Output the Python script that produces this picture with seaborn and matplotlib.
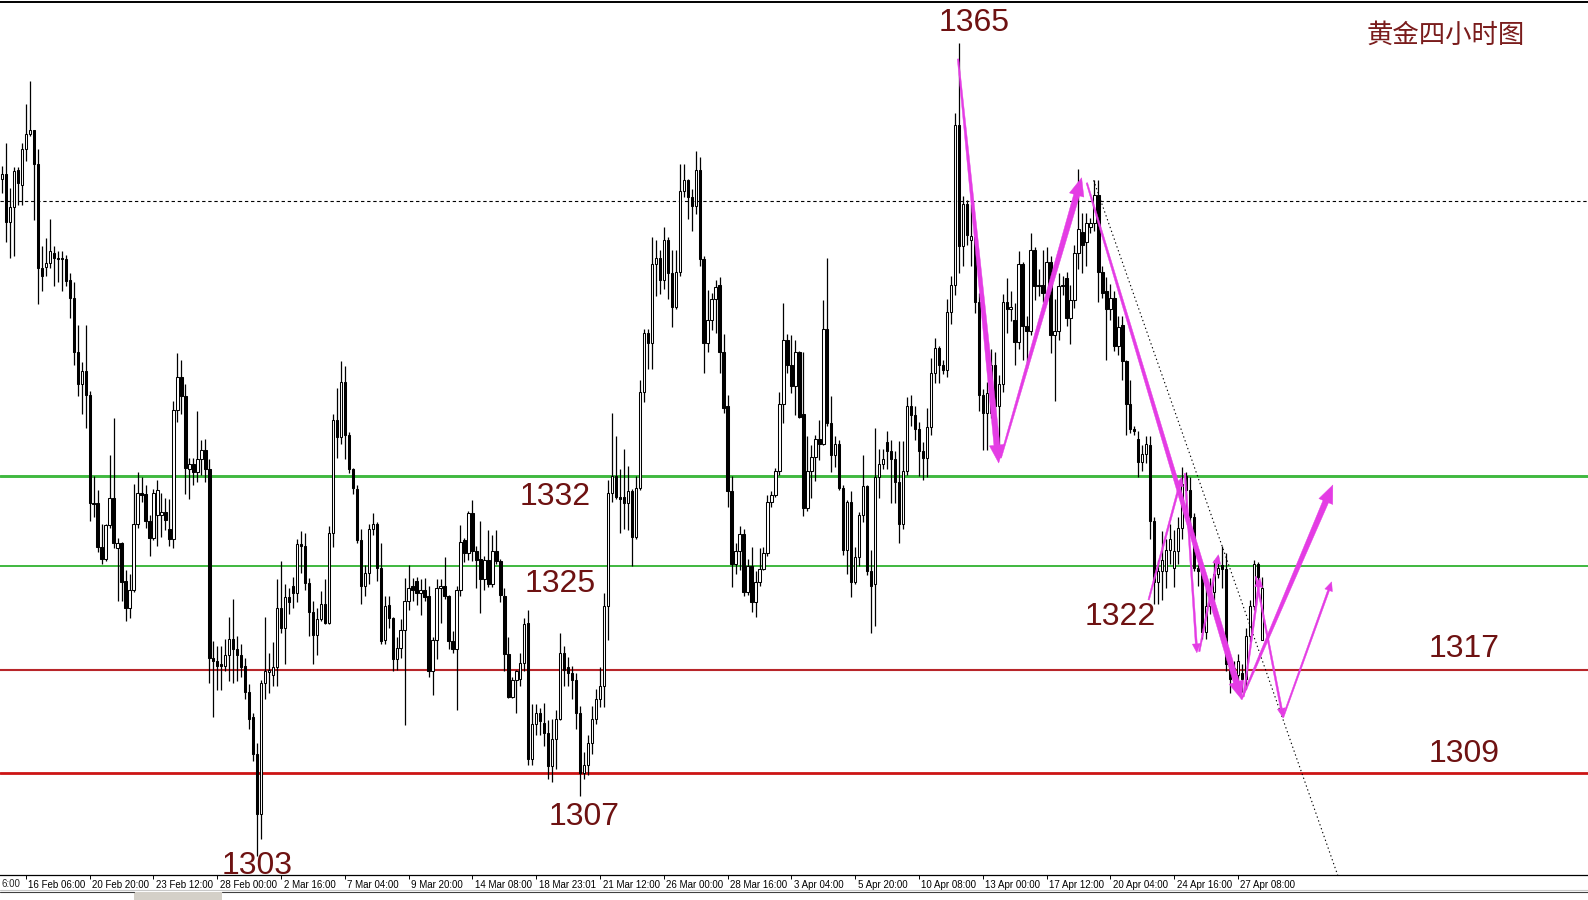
import numpy as np
import matplotlib
matplotlib.use("Agg")
import matplotlib.pyplot as plt
import matplotlib.transforms as mtransforms
from matplotlib.patches import Polygon, Rectangle
from matplotlib import font_manager
import seaborn as sns

# 4H gold candles (oldest -> newest)
opens = [
    1355.0, 1355.4, 1351.7, 1352.8, 1355.7, 1354.5, 1357.3, 1358.5, 1358.8, 1356.2,
    1348.1, 1348.2, 1348.5, 1349.3, 1348.9, 1348.9, 1348.8, 1347.2, 1345.8, 1341.6,
    1339.1, 1340.1, 1338.3, 1329.9, 1329.9, 1326.5, 1325.6, 1328.2, 1330.3, 1326.4,
    1326.8, 1323.9, 1321.8, 1323.2, 1328.3, 1330.7, 1330.6, 1328.5, 1327.2, 1329.0,
    1329.0, 1329.2, 1327.9, 1327.1, 1337.1, 1339.7, 1338.2, 1332.5, 1332.9, 1332.3,
    1333.3, 1334.0, 1332.5, 1317.9, 1317.7, 1317.4, 1317.3, 1318.1, 1319.4, 1318.6,
    1318.1, 1317.3, 1315.3, 1313.3, 1310.5, 1305.8, 1316.0, 1316.8, 1316.6, 1317.2,
    1321.8, 1320.2, 1322.6, 1323.5, 1322.9, 1326.7, 1326.6, 1323.7, 1321.5, 1319.7,
    1320.9, 1322.1, 1320.6, 1327.6, 1336.3, 1335.0, 1339.3, 1335.2, 1332.5, 1331.0,
    1327.0, 1323.5, 1324.5, 1327.9, 1328.3, 1324.9, 1319.3, 1322.0, 1321.0, 1317.8,
    1318.7, 1320.1, 1322.3, 1323.5, 1323.9, 1322.9, 1323.2, 1322.7, 1316.9, 1319.3,
    1323.3, 1323.5, 1322.7, 1319.2, 1318.6, 1323.2, 1327.0, 1326.0, 1329.1, 1326.2,
    1325.6, 1324.0, 1325.5, 1323.6, 1326.2, 1325.4, 1322.7, 1318.2, 1314.9, 1316.2,
    1316.3, 1317.5, 1320.6, 1310.1, 1312.8, 1313.6, 1312.9, 1312.1, 1309.5, 1311.6,
    1313.2, 1318.3, 1317.2, 1316.7, 1316.2, 1313.6, 1309.0, 1309.6, 1311.3, 1313.2,
    1314.7, 1315.7, 1321.9, 1330.7, 1332.0, 1330.4, 1330.4, 1329.9, 1330.8, 1327.3,
    1331.1, 1338.5, 1343.1, 1342.3, 1348.4, 1348.9, 1347.2, 1350.3, 1347.7, 1345.1,
    1347.8, 1354.1, 1354.9, 1353.6, 1352.9, 1355.7, 1348.8, 1342.3, 1344.1, 1345.7,
    1346.8, 1341.6, 1337.4, 1330.8, 1325.2, 1326.2, 1327.5, 1323.0, 1325.0, 1322.2,
    1323.8, 1324.8, 1326.0, 1330.0, 1330.5, 1332.4, 1337.6, 1342.5, 1340.6, 1339.0,
    1341.6, 1336.8, 1329.5, 1332.4, 1333.5, 1334.9, 1334.5, 1343.4, 1336.1, 1333.6,
    1334.5, 1331.1, 1326.3, 1330.0, 1323.8, 1325.7, 1329.0, 1331.2, 1324.6, 1323.6,
    1331.9, 1332.9, 1334.6, 1333.9, 1333.3, 1331.5, 1328.3, 1332.4, 1337.4, 1336.7,
    1335.6, 1333.9, 1333.4, 1335.8, 1340.0, 1341.9, 1340.6, 1340.2, 1344.7, 1346.8,
    1359.2, 1349.8, 1353.1, 1350.3, 1350.5, 1345.5, 1338.3, 1336.9, 1336.9, 1340.6,
    1337.4, 1339.1, 1345.5, 1344.9, 1344.1, 1342.4, 1348.4, 1343.6, 1343.2, 1349.5,
    1346.7, 1346.8, 1346.2, 1348.6, 1342.9, 1343.2, 1346.7, 1347.3, 1344.2, 1345.6,
    1349.3, 1350.9, 1350.1, 1351.3, 1351.6, 1353.8, 1347.8, 1346.3, 1344.9, 1345.8,
    1342.1, 1343.7, 1340.9, 1337.6, 1335.6, 1334.9, 1333.1, 1333.7, 1334.4, 1328.5,
    1323.8, 1324.6, 1324.6, 1326.3, 1324.9, 1326.2, 1328.0, 1332.0, 1330.9, 1328.8,
    1324.9, 1324.6, 1319.9, 1321.9, 1323.0, 1324.4, 1325.1, 1324.8, 1317.4, 1316.3,
    1316.6, 1316.7, 1316.3, 1319.6, 1321.9, 1325.2, 1319.3,
]
highs = [
    1356.0, 1357.8, 1354.3, 1355.9, 1355.9, 1357.8, 1360.8, 1362.6, 1358.8, 1357.3,
    1349.8, 1350.4, 1351.9, 1349.8, 1349.4, 1349.4, 1349.1, 1347.7, 1347.0, 1343.7,
    1340.8, 1343.7, 1338.6, 1332.0, 1330.9, 1328.3, 1328.3, 1333.6, 1336.5, 1327.2,
    1326.9, 1324.7, 1324.4, 1331.4, 1332.3, 1331.9, 1331.3, 1329.0, 1331.0, 1331.7,
    1330.7, 1330.3, 1330.2, 1337.8, 1341.5, 1341.0, 1339.1, 1333.4, 1333.4, 1337.0,
    1334.8, 1334.9, 1333.3, 1319.2, 1318.8, 1318.8, 1319.4, 1321.1, 1322.5, 1319.6,
    1319.0, 1317.9, 1315.9, 1313.6, 1311.3, 1316.2, 1321.1, 1318.3, 1319.1, 1324.0,
    1325.4, 1323.6, 1323.3, 1324.2, 1327.1, 1327.7, 1327.6, 1324.1, 1322.3, 1321.8,
    1323.1, 1324.0, 1328.1, 1336.8, 1338.8, 1340.9, 1340.5, 1335.4, 1332.6, 1331.3,
    1327.9, 1325.1, 1328.3, 1329.1, 1328.4, 1326.8, 1322.7, 1322.7, 1321.1, 1319.5,
    1320.9, 1324.1, 1325.1, 1324.1, 1324.2, 1324.0, 1324.1, 1323.5, 1319.5, 1324.0,
    1324.0, 1325.7, 1322.8, 1320.0, 1323.5, 1328.2, 1327.2, 1329.3, 1330.1, 1326.6,
    1328.5, 1325.8, 1327.8, 1327.4, 1327.8, 1325.6, 1323.3, 1319.5, 1316.4, 1317.0,
    1318.3, 1321.0, 1321.6, 1314.3, 1314.3, 1314.0, 1314.4, 1313.1, 1313.2, 1313.9,
    1319.8, 1318.8, 1318.0, 1317.3, 1316.7, 1314.2, 1310.6, 1311.9, 1314.2, 1315.5,
    1317.2, 1322.9, 1331.7, 1336.9, 1335.1, 1332.5, 1334.1, 1332.8, 1331.0, 1332.0,
    1339.4, 1343.4, 1343.4, 1350.5, 1350.3, 1349.5, 1351.3, 1350.5, 1349.5, 1349.5,
    1356.2, 1356.2, 1355.0, 1354.2, 1357.2, 1356.7, 1349.0, 1346.4, 1346.2, 1347.2,
    1347.4, 1343.0, 1338.3, 1332.0, 1326.8, 1328.1, 1327.9, 1325.6, 1326.5, 1324.6,
    1326.4, 1326.5, 1330.5, 1330.8, 1332.6, 1338.5, 1345.4, 1343.0, 1342.9, 1342.5,
    1341.7, 1341.6, 1335.1, 1334.4, 1335.2, 1336.3, 1345.6, 1348.9, 1338.2, 1335.1,
    1334.8, 1331.3, 1330.1, 1330.8, 1326.5, 1329.2, 1333.6, 1331.3, 1326.3, 1335.7,
    1334.1, 1334.1, 1335.5, 1334.8, 1333.9, 1334.7, 1334.7, 1338.1, 1338.3, 1337.4,
    1336.2, 1334.6, 1337.3, 1341.1, 1342.7, 1342.1, 1341.0, 1345.7, 1347.5, 1360.1,
    1365.5, 1353.7, 1353.4, 1353.1, 1351.2, 1346.2, 1338.7, 1339.3, 1341.8, 1341.6,
    1339.8, 1346.1, 1347.3, 1346.3, 1345.4, 1349.4, 1348.6, 1344.4, 1350.8, 1349.7,
    1348.0, 1349.5, 1349.7, 1349.0, 1345.7, 1347.7, 1347.5, 1347.8, 1346.8, 1349.9,
    1355.8, 1352.4, 1352.4, 1352.0, 1354.9, 1354.9, 1348.3, 1347.4, 1346.9, 1346.3,
    1344.4, 1344.4, 1341.0, 1339.4, 1335.9, 1335.5, 1334.4, 1335.1, 1335.1, 1328.8,
    1325.5, 1327.7, 1327.1, 1328.3, 1327.8, 1328.8, 1332.7, 1332.3, 1331.9, 1329.1,
    1325.2, 1324.9, 1323.3, 1324.1, 1325.5, 1325.8, 1326.6, 1326.0, 1317.7, 1317.7,
    1318.2, 1317.4, 1320.2, 1322.4, 1325.5, 1325.3, 1324.2,
]
lows = [
    1353.9, 1350.1, 1348.9, 1349.0, 1353.0, 1353.0, 1356.4, 1358.3, 1351.8, 1345.3,
    1346.3, 1347.5, 1348.1, 1346.7, 1347.0, 1346.3, 1346.7, 1344.2, 1340.6, 1338.2,
    1336.8, 1335.7, 1328.5, 1328.8, 1326.1, 1325.2, 1325.4, 1328.0, 1326.4, 1322.3,
    1322.3, 1320.8, 1321.0, 1323.0, 1328.0, 1330.0, 1328.0, 1325.8, 1327.0, 1326.6,
    1327.3, 1327.8, 1326.6, 1326.4, 1336.2, 1336.8, 1330.6, 1330.2, 1331.3, 1331.5,
    1332.1, 1331.5, 1316.0, 1313.3, 1315.4, 1315.4, 1316.9, 1316.1, 1316.0, 1316.1,
    1316.4, 1314.7, 1312.4, 1309.9, 1302.6, 1303.9, 1314.7, 1315.2, 1315.7, 1315.7,
    1319.8, 1317.4, 1321.3, 1321.8, 1322.2, 1324.5, 1323.2, 1319.6, 1317.4, 1318.1,
    1320.8, 1320.5, 1320.5, 1326.5, 1333.4, 1334.5, 1333.3, 1332.2, 1330.6, 1326.8,
    1322.1, 1322.7, 1323.6, 1327.4, 1323.9, 1319.0, 1319.0, 1320.2, 1316.9, 1317.0,
    1317.9, 1312.7, 1321.6, 1322.3, 1322.0, 1321.2, 1322.3, 1316.4, 1315.0, 1317.8,
    1320.6, 1322.5, 1318.6, 1318.3, 1313.9, 1322.7, 1325.3, 1325.5, 1325.4, 1323.3,
    1321.4, 1323.2, 1323.4, 1323.4, 1325.2, 1322.2, 1316.9, 1314.8, 1314.8, 1313.6,
    1315.7, 1316.9, 1309.6, 1309.6, 1311.9, 1311.9, 1311.1, 1308.5, 1308.3, 1309.3,
    1313.1, 1315.7, 1315.7, 1314.7, 1312.4, 1307.2, 1308.5, 1308.8, 1310.5, 1312.8,
    1314.1, 1314.1, 1319.3, 1330.0, 1330.2, 1327.6, 1327.9, 1327.8, 1325.0, 1327.1,
    1330.9, 1337.7, 1340.3, 1340.3, 1345.9, 1346.1, 1346.5, 1345.7, 1343.5, 1344.9,
    1347.5, 1353.6, 1351.9, 1351.0, 1352.3, 1348.3, 1340.0, 1341.6, 1343.3, 1343.1,
    1340.0, 1336.9, 1329.6, 1323.4, 1324.4, 1324.7, 1322.7, 1322.8, 1321.5, 1321.1,
    1323.5, 1324.7, 1325.8, 1329.6, 1330.4, 1332.1, 1336.1, 1340.0, 1338.4, 1336.7,
    1336.5, 1328.9, 1329.3, 1330.3, 1331.6, 1333.2, 1334.4, 1335.9, 1332.3, 1332.7,
    1330.9, 1325.9, 1324.4, 1322.6, 1323.6, 1325.0, 1328.4, 1324.3, 1319.8, 1320.4,
    1330.3, 1332.5, 1332.5, 1329.9, 1329.9, 1326.8, 1327.9, 1332.1, 1335.9, 1334.8,
    1332.0, 1331.7, 1331.9, 1335.2, 1339.2, 1339.2, 1339.9, 1339.7, 1343.8, 1346.0,
    1347.7, 1348.3, 1349.9, 1348.3, 1344.6, 1337.0, 1334.0, 1334.0, 1336.5, 1334.2,
    1334.0, 1338.5, 1343.1, 1344.0, 1340.6, 1341.8, 1341.0, 1340.4, 1342.9, 1345.6,
    1345.9, 1345.5, 1345.7, 1341.5, 1337.8, 1342.5, 1346.0, 1343.6, 1342.2, 1345.0,
    1348.0, 1347.7, 1348.3, 1350.8, 1351.0, 1345.5, 1345.8, 1341.0, 1344.1, 1341.7,
    1341.4, 1339.4, 1335.2, 1335.3, 1335.2, 1331.9, 1332.4, 1333.0, 1327.1, 1322.1,
    1322.1, 1322.4, 1323.3, 1325.2, 1323.4, 1325.2, 1327.1, 1328.8, 1327.4, 1324.6,
    1323.5, 1319.4, 1319.4, 1321.3, 1322.4, 1324.1, 1323.3, 1316.9, 1315.2, 1315.8,
    1315.6, 1315.3, 1315.5, 1319.1, 1321.6, 1323.8, 1319.3,
]
closes = [
    1355.4, 1351.7, 1352.8, 1355.6, 1354.7, 1357.3, 1358.5, 1358.8, 1356.2, 1348.1,
    1347.5, 1348.5, 1349.4, 1348.9, 1348.8, 1348.8, 1347.1, 1345.8, 1341.6, 1339.1,
    1340.1, 1338.3, 1329.9, 1329.8, 1326.5, 1325.6, 1328.2, 1330.3, 1326.8, 1326.8,
    1323.8, 1321.8, 1323.2, 1328.3, 1330.7, 1330.5, 1328.5, 1327.2, 1330.7, 1330.9,
    1329.2, 1328.6, 1327.1, 1337.1, 1339.7, 1338.2, 1332.6, 1332.9, 1332.3, 1333.3,
    1334.0, 1332.5, 1317.9, 1317.7, 1317.3, 1317.3, 1318.1, 1319.4, 1318.6, 1318.1,
    1317.2, 1315.3, 1313.2, 1310.5, 1305.8, 1316.0, 1316.9, 1317.0, 1317.2, 1321.8,
    1320.2, 1322.6, 1322.2, 1322.9, 1326.7, 1326.6, 1323.7, 1321.5, 1319.7, 1320.9,
    1322.1, 1320.6, 1327.6, 1336.3, 1335.0, 1339.3, 1335.2, 1332.5, 1331.1, 1327.0,
    1323.5, 1324.5, 1327.9, 1328.3, 1324.9, 1319.2, 1321.9, 1321.0, 1317.8, 1318.7,
    1320.1, 1322.3, 1323.3, 1323.2, 1322.9, 1323.2, 1322.6, 1316.9, 1319.3, 1323.3,
    1323.5, 1322.7, 1319.2, 1318.6, 1323.2, 1326.9, 1326.0, 1329.1, 1326.2, 1325.5,
    1324.0, 1325.5, 1323.6, 1326.2, 1325.4, 1322.8, 1318.2, 1314.9, 1316.2, 1316.9,
    1317.5, 1320.5, 1310.1, 1312.8, 1313.6, 1313.0, 1312.1, 1309.5, 1311.6, 1313.2,
    1318.3, 1317.0, 1316.7, 1316.2, 1313.6, 1309.0, 1309.6, 1311.3, 1313.2, 1314.7,
    1315.7, 1321.9, 1330.7, 1332.0, 1330.4, 1330.2, 1329.9, 1330.8, 1327.3, 1331.1,
    1338.5, 1343.1, 1342.3, 1348.4, 1348.9, 1347.2, 1350.3, 1347.7, 1345.1, 1347.8,
    1354.1, 1354.9, 1353.6, 1352.9, 1355.7, 1348.8, 1342.3, 1344.1, 1345.7, 1346.6,
    1341.6, 1337.3, 1330.8, 1325.2, 1326.2, 1327.5, 1323.0, 1325.0, 1322.2, 1323.8,
    1324.8, 1326.0, 1330.0, 1330.5, 1332.4, 1337.6, 1342.5, 1340.6, 1339.0, 1341.6,
    1336.6, 1329.5, 1332.4, 1333.5, 1334.9, 1334.5, 1343.4, 1336.1, 1333.6, 1334.5,
    1331.1, 1326.3, 1330.0, 1323.8, 1325.7, 1329.0, 1331.2, 1324.6, 1323.5, 1331.9,
    1332.9, 1333.3, 1333.9, 1333.3, 1331.5, 1328.3, 1332.4, 1337.4, 1336.7, 1335.6,
    1333.9, 1333.4, 1335.8, 1340.0, 1341.9, 1340.6, 1340.2, 1344.7, 1346.8, 1359.2,
    1349.8, 1353.1, 1350.7, 1350.6, 1345.5, 1338.3, 1336.9, 1338.4, 1340.6, 1337.4,
    1339.1, 1345.5, 1344.9, 1345.1, 1342.4, 1348.4, 1343.6, 1343.2, 1349.5, 1346.7,
    1346.8, 1346.2, 1348.6, 1342.9, 1343.2, 1346.7, 1346.8, 1344.2, 1345.6, 1349.3,
    1351.1, 1349.9, 1351.6, 1351.6, 1353.8, 1347.8, 1346.2, 1344.9, 1345.8, 1342.1,
    1343.5, 1340.9, 1337.6, 1335.6, 1335.5, 1333.1, 1333.7, 1334.5, 1328.5, 1323.8,
    1324.6, 1325.5, 1326.3, 1327.1, 1326.2, 1328.0, 1331.4, 1330.9, 1328.8, 1324.9,
    1324.6, 1319.9, 1321.9, 1323.0, 1324.4, 1324.9, 1324.8, 1317.4, 1316.3, 1317.1,
    1317.7, 1316.3, 1319.6, 1321.9, 1325.2, 1324.2, 1323.3,
]

# x-axis date labels (one every 16 bars)
tick_labels = [
    "16 Feb 06:00", "20 Feb 20:00", "23 Feb 12:00", "28 Feb 00:00", "2 Mar 16:00",
    "7 Mar 04:00", "9 Mar 20:00", "14 Mar 08:00", "18 Mar 23:01", "21 Mar 12:00",
    "26 Mar 00:00", "28 Mar 16:00", "3 Apr 04:00", "5 Apr 20:00", "10 Apr 08:00",
    "13 Apr 00:00", "17 Apr 12:00", "20 Apr 04:00", "24 Apr 16:00", "27 Apr 08:00",
]

# support / resistance levels
green_levels = [1332, 1325]
red_levels = [1317, 1309]
dotted_level = 1353.3

# price notes: (bar, price, text)
notes = [
    (243.9, 1367.1, "1365"), (138.7, 1330.4, "1332"), (140.0, 1323.6, "1325"),
    (280.4, 1321.1, "1322"), (366.8, 1318.6, "1317"), (366.8, 1310.5, "1309"),
    (146.1, 1305.6, "1307"), (64.0, 1301.8, "1303"),
]

# hand-drawn magenta arrows: start (bar, price), end (bar, price), thick?
arrows = [
    ((239.8, 1364.3), (250.0, 1333.0), True),
    ((250.5, 1333.4), (270.8, 1355.1), True),
    ((272.1, 1354.7), (310.9, 1314.7), True),
    ((310.9, 1314.7), (333.8, 1331.3), True),
    ((287.6, 1322.4), (295.9, 1331.9), False),
    ((296.7, 1332.2), (299.7, 1318.3), False),
    ((300.3, 1318.4), (305.1, 1325.9), False),
    ((311.4, 1314.9), (315.5, 1324.1), False),
    ((314.5, 1324.2), (321.3, 1313.3), False),
    ((321.3, 1313.3), (333.5, 1323.8), False),
]

# dotted trend line from the 17 Apr high
trend_x = [273.8, 345.0]
trend_y = [1354.9, 1292.3]

sns.set_theme(style="white")
names = {f.name for f in font_manager.fontManager.ttflist}
narrow = "Liberation Sans Narrow" if "Liberation Sans Narrow" in names else "Liberation Sans"
plt.rcParams["font.family"] = [narrow, "DejaVu Sans"]

W, H = 1588, 900
fig = plt.figure(figsize=(W / 100, H / 100), dpi=100)
fig.patch.set_facecolor("white")
ax = fig.add_axes([0, 25 / H, 1, 873.5 / H])
ax.set_facecolor("white")
ax.set_xlim(-0.5, 397.8)
ax.set_ylim(1301.09, 1368.75)

o = np.array(opens)
h = np.array(highs)
l = np.array(lows)
c = np.array(closes)
idx = np.arange(len(c))
up = c >= o

# levels
for lv, lw in zip(green_levels, [2.1, 1.4]):
    ax.axhline(lv, color="#3fb83f", lw=lw, zorder=1)
for lv, lw, col in zip(red_levels, [1.5, 2.0], ["#b8262a", "#cc1414"]):
    ax.axhline(lv, color=col, lw=lw, zorder=1)
ax.axhline(dotted_level, color="black", lw=0.8, dashes=(3, 2.5), zorder=1)

# candles
ax.vlines(idx, l, h, color="black", lw=0.9, zorder=2)
bottom = np.minimum(o, c)
height = np.maximum(np.abs(c - o), 0.08)
ax.bar(idx[up], height[up], bottom=bottom[up], width=0.6,
       color="white", edgecolor="black", lw=0.75, zorder=3)
ax.bar(idx[~up], height[~up], bottom=bottom[~up], width=0.6,
       color="black", edgecolor="black", lw=0.75, zorder=3)

# trend line
sns.lineplot(x=trend_x, y=trend_y, ax=ax, color="black", lw=0.8,
             dashes=False, zorder=4).lines[-1].set_dashes((1.2, 2.5))


def taper_arrow(p0, p1, thick):
    w0, w1, hw, hl = (1.5, 6.0, 15.0, 18.0) if thick else (1.5, 2.0, 8.0, 9.0)
    T = ax.transData
    a = T.transform(p0)
    b = T.transform(p1)
    d = b - a
    u = d / np.hypot(*d)
    nrm = np.array([-u[1], u[0]])
    base = b - u * hl
    pts = [a + nrm * w0 / 2, base + nrm * w1 / 2, base + nrm * hw / 2, b,
           base - nrm * hw / 2, base - nrm * w1 / 2, a - nrm * w0 / 2]
    pts = T.inverted().transform(np.array(pts))
    ax.add_patch(Polygon(pts, closed=True, fc="#e43ce4", ec="#e43ce4",
                         lw=0.3, zorder=6, clip_on=False))


for p0, p1, thick in arrows:
    taper_arrow(p0, p1, thick)

for x, y, s in notes:
    ax.text(x, y, s, ha="center", va="center", fontsize=23, color="#6e1212",
            family=[narrow, "DejaVu Sans"], zorder=7)

fig.text(1446 / W, 1 - 35 / H, "黄金四小时图", ha="center", va="center",
         fontsize=19, color="#7a1c1c", family=["Noto Sans CJK SC", "DejaVu Sans"])

# axes cosmetics
ax.set_yticks([])
ticks = 6 + 16 * np.arange(len(tick_labels))
ax.set_xticks(ticks)
ax.set_xticklabels(tick_labels)
ax.tick_params(axis="x", direction="out", length=3, width=0.7, pad=0.5,
               labelsize=7, colors="black", bottom=True)
offset = mtransforms.ScaledTranslation(2.5 / 100, 0, fig.dpi_scale_trans)
for lbl in ax.get_xticklabels():
    lbl.set_ha("left")
    lbl.set_transform(lbl.get_transform() + offset)
for side in ["left", "right"]:
    ax.spines[side].set_visible(False)
ax.spines["top"].set_color("black")
ax.spines["top"].set_linewidth(1.4)
ax.spines["bottom"].set_color("black")
ax.spines["bottom"].set_linewidth(0.9)
ax.grid(False)

# visible tail of the label cut off at the left edge
fig.text(1 / W, 1 - 884 / H, "6:00", ha="left", va="center",
         fontsize=7, family=[narrow, "DejaVu Sans"])

# status strip at the bottom
fig.patches.append(Rectangle((134 / W, 0), 88 / W, 8 / H, transform=fig.transFigure,
                             fc="#d4d0c8", ec="none"))
fig.lines.append(plt.Line2D([0, 134 / W], [8 / H, 8 / H], transform=fig.transFigure,
                            color="#404040", lw=0.8))
fig.lines.append(plt.Line2D([222 / W, 1], [8 / H, 8 / H], transform=fig.transFigure,
                            color="#404040", lw=0.8))
fig.lines.append(plt.Line2D([0, 1], [10.5 / H, 10.5 / H], transform=fig.transFigure,
                            color="#c8c8c8", lw=0.8))

fig.savefig("out.png", dpi=100, facecolor="white")
